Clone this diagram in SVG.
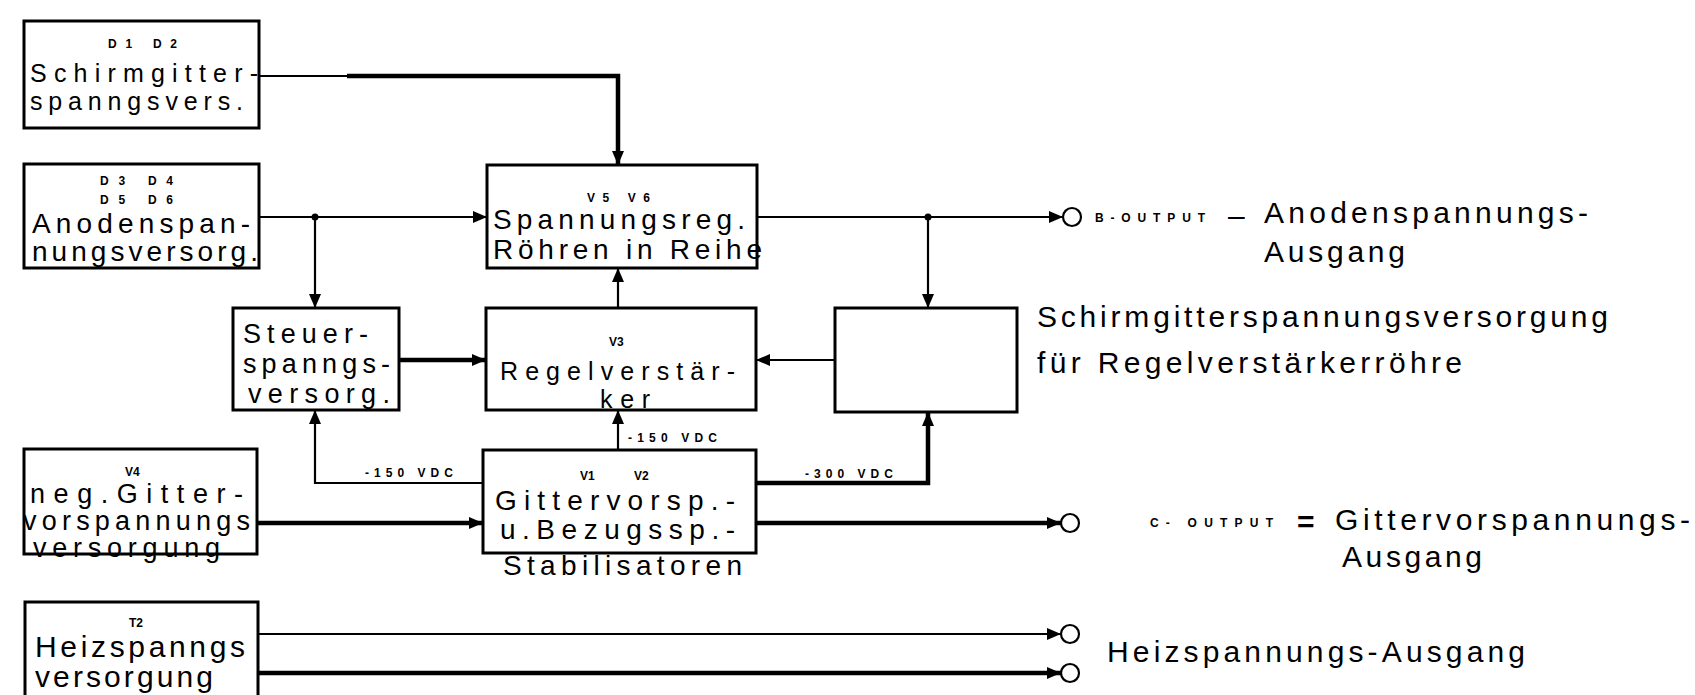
<svg xmlns="http://www.w3.org/2000/svg" width="1695" height="695" viewBox="0 0 1695 695">
<style>
.bx{fill:none;stroke:#000;stroke-width:3}
.ln{fill:none;stroke:#000;stroke-width:2.2}
.tk{fill:none;stroke:#000;stroke-width:4.5}
.t{font-family:"Liberation Sans",Arial,sans-serif;font-size:30px;fill:#000}
.tm{font-family:"Liberation Sans",Arial,sans-serif;font-size:28px;fill:#000}
.tb{font-family:"Liberation Sans",Arial,sans-serif;font-size:27px;fill:#000}
.ts{font-family:"Liberation Sans",Arial,sans-serif;font-size:25px;fill:#000}
.s{font-family:"Liberation Sans",Arial,sans-serif;font-size:12px;font-weight:bold;fill:#000}
.c{fill:#fff;stroke:#000;stroke-width:2.2}
.d{fill:#000}
</style>
<defs>
<marker id="ah" markerUnits="userSpaceOnUse" markerWidth="14" markerHeight="12" refX="14" refY="6" orient="auto">
<path d="M0,0 L14,6 L0,12 z" fill="#000"/>
</marker>
</defs>
<rect width="1695" height="695" fill="#fff"/>

<g id="connectors">
<path class="ln" d="M259,76 H347"/>
<path class="tk" d="M347,76 H618 V165" marker-end="url(#ah)"/>
<path class="ln" d="M259,217 H487" marker-end="url(#ah)"/>
<path class="ln" d="M315,217 V308" marker-end="url(#ah)"/>
<circle class="d" cx="315" cy="217" r="3.5"/>
<path class="ln" d="M757,217 H1063" marker-end="url(#ah)"/>
<circle class="d" cx="928" cy="217" r="3.5"/>
<path class="ln" d="M928,217 V308" marker-end="url(#ah)"/>
<path class="ln" d="M618,308 V268" marker-end="url(#ah)"/>
<path class="tk" d="M399,360 H486" marker-end="url(#ah)"/>
<path class="ln" d="M835,360 H756" marker-end="url(#ah)"/>
<path class="ln" d="M483,483 H315 V410" marker-end="url(#ah)"/>
<path class="ln" d="M618,450 V410" marker-end="url(#ah)"/>
<path class="tk" d="M756,483 H928 V412" marker-end="url(#ah)"/>
<path class="tk" d="M257,523 H483" marker-end="url(#ah)"/>
<path class="tk" d="M756,523 H1061" marker-end="url(#ah)"/>
<path class="ln" d="M258,634 H1061" marker-end="url(#ah)"/>
<path class="tk" d="M258,673 H1061" marker-end="url(#ah)"/>
<text class="s" x="365" y="477" textLength="88" lengthAdjust="spacing">-150 VDC</text>
<text class="s" x="628" y="442" textLength="89" lengthAdjust="spacing">-150 VDC</text>
<text class="s" x="805" y="478" textLength="88" lengthAdjust="spacing">-300 VDC</text>
</g>

<g id="schirmgitter-vers">
<rect class="bx" x="24" y="21" width="235" height="107"/>
<text class="s" x="108" y="48" textLength="69" lengthAdjust="spacing">D1  D2</text>
<text class="ts" x="30" y="82" textLength="228" lengthAdjust="spacing">Schirmgitter-</text>
<text class="ts" x="30" y="110" textLength="213" lengthAdjust="spacing">spanngsvers.</text>
</g>

<g id="anodenspannungsversorg">
<rect class="bx" x="24" y="164" width="235" height="104"/>
<text class="s" x="100" y="185" textLength="73" lengthAdjust="spacing">D3   D4</text>
<text class="s" x="100" y="204" textLength="73" lengthAdjust="spacing">D5   D6</text>
<text class="tm" x="32" y="233" textLength="218" lengthAdjust="spacing">Anodenspan-</text>
<text class="tm" x="32" y="261" textLength="226" lengthAdjust="spacing">nungsversorg.</text>
</g>

<g id="spannungsreg">
<rect class="bx" x="487" y="165" width="270" height="103"/>
<text class="s" x="587" y="202" textLength="63" lengthAdjust="spacing">V5  V6</text>
<text class="tm" x="493" y="229" textLength="252" lengthAdjust="spacing">Spannungsreg.</text>
<text class="tm" x="493" y="259" textLength="269" lengthAdjust="spacing">Röhren in Reihe</text>
</g>

<g id="steuerspannungsversorg">
<rect class="bx" x="233" y="308" width="166" height="102"/>
<text class="tb" x="243" y="343" textLength="125" lengthAdjust="spacing">Steuer-</text>
<text class="tb" x="243" y="373" textLength="147" lengthAdjust="spacing">spanngs-</text>
<text class="tb" x="248" y="403" textLength="142" lengthAdjust="spacing">versorg.</text>
</g>

<g id="regelverstaerker">
<rect class="bx" x="486" y="308" width="270" height="102"/>
<text class="s" x="609" y="346">V3</text>
<text class="ts" x="500" y="380" textLength="235" lengthAdjust="spacing">Regelverstär-</text>
<text class="ts" x="600" y="408" textLength="50" lengthAdjust="spacing">ker</text>
</g>

<g id="schirmgitter-regel">
<rect class="bx" x="835" y="308" width="182" height="104"/>
</g>

<g id="neg-gitterspannung">
<rect class="bx" x="24" y="449" width="233" height="105"/>
<text class="s" x="125" y="476">V4</text>
<text class="tb" x="30" y="503" textLength="213" lengthAdjust="spacing">neg.Gitter-</text>
<text class="tb" x="23" y="530" textLength="227" lengthAdjust="spacing">vorspannungs</text>
<text class="tb" x="33" y="557" textLength="187" lengthAdjust="spacing">versorgung</text>
</g>

<g id="gittervorsp">
<rect class="bx" x="483" y="450" width="273" height="103"/>
<text class="s" x="580" y="480">V1</text>
<text class="s" x="634" y="480">V2</text>
<text class="tm" x="495" y="510" textLength="240" lengthAdjust="spacing">Gittervorsp.-</text>
<text class="tm" x="500" y="539" textLength="235" lengthAdjust="spacing">u.Bezugssp.-</text>
<text class="tm" x="503" y="575" textLength="239" lengthAdjust="spacing">Stabilisatoren</text>
</g>

<g id="heizspannungsversorgung">
<path class="bx" d="M25,700 V602 H258 V700"/>
<text class="s" x="129" y="627">T2</text>
<text class="t" x="35" y="657" textLength="210" lengthAdjust="spacing">Heizspanngs</text>
<text class="t" x="35" y="687" textLength="178" lengthAdjust="spacing">versorgung</text>
</g>

<g id="b-output">
<circle class="c" cx="1072" cy="217" r="9"/>
<text class="s" x="1095" y="222" textLength="110" lengthAdjust="spacing">B-OUTPUT</text>
<text class="t" x="1228" y="226">–</text>
<text class="t" x="1264" y="223" textLength="324" lengthAdjust="spacing">Anodenspannungs-</text>
<text class="t" x="1264" y="262" textLength="141" lengthAdjust="spacing">Ausgang</text>
</g>

<g id="schirmgitter-label">
<text class="t" x="1037" y="327" textLength="571" lengthAdjust="spacing">Schirmgitterspannungsversorgung</text>
<text class="t" x="1037" y="373" textLength="425" lengthAdjust="spacing">für Regelverstärkerröhre</text>
</g>

<g id="c-output">
<circle class="c" cx="1070" cy="523" r="9"/>
<text class="s" x="1150" y="527" textLength="123" lengthAdjust="spacing">C- OUTPUT</text>
<text class="t" x="1297" y="532" font-weight="bold">=</text>
<text class="t" x="1335" y="530" textLength="355" lengthAdjust="spacing">Gittervorspannungs-</text>
<text class="t" x="1342" y="567" textLength="140" lengthAdjust="spacing">Ausgang</text>
</g>

<g id="heiz-output">
<circle class="c" cx="1070" cy="634" r="9"/>
<circle class="c" cx="1070" cy="673" r="9"/>
<text class="t" x="1107" y="662" textLength="418" lengthAdjust="spacing">Heizspannungs-Ausgang</text>
</g>
</svg>
